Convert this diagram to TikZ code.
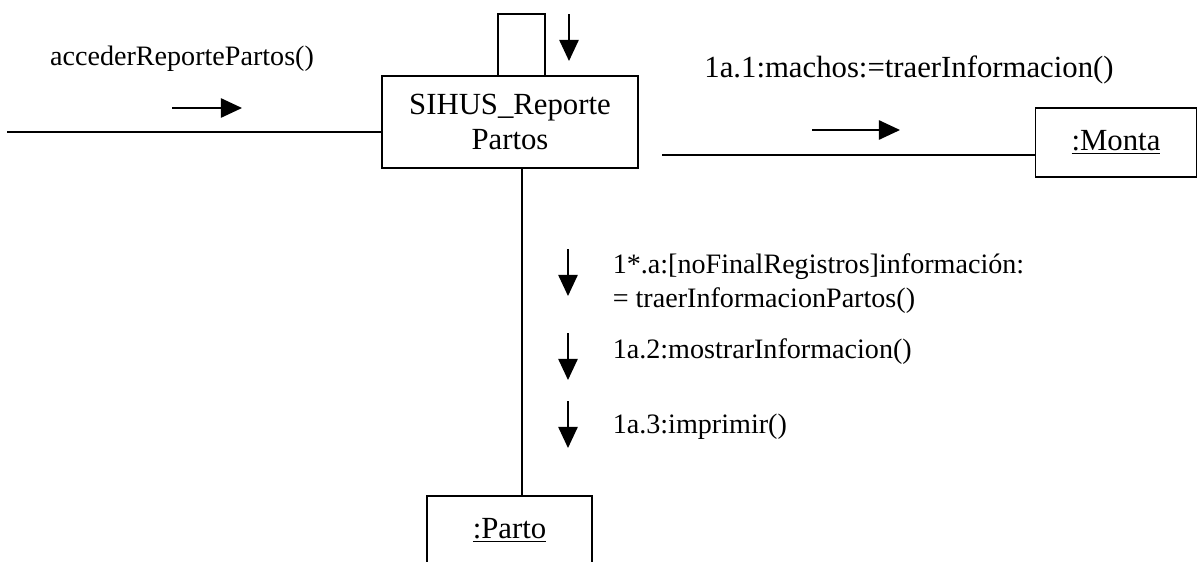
\documentclass[tikz,border=0pt]{standalone}
\usepackage{fontspec}
\setmainfont{Liberation Serif}
\usetikzlibrary{positioning, arrows.meta}
\tikzset{
    >={Triangle[length=12pt, width=11pt]},
    object/.style={
        draw,
        inner sep=0pt,
        font=\fontsize{17.5}{20}\selectfont
    },
    msg/.style={->},
    lbl/.style={inner sep=0pt, anchor=base west, font=\fontsize{16}{19}\selectfont},
}

\begin{document}
\begin{tikzpicture}[x=0.02cm, y=-0.02cm, line width=0.9pt]
    \useasboundingbox (0,0) rectangle (1199,561);

    \node[object, minimum width=5.12cm, minimum height=1.84cm, align=center] (rep) at (510,122) {SIHUS\_Reporte\\Partos};
    \node[object, minimum width=3.22cm, minimum height=1.38cm] (monta) at (1116,142.5) {\underline{:Monta}};
    \node[object, minimum width=3.3cm, minimum height=1.36cm] (parto) at (509.5,530) {\underline{:Parto}};

    % free ends and bends
    \coordinate (in)    at (7,132);
    \coordinate (out)   at (662,155);
    \coordinate (down)  at (522,0);
    \coordinate (loopL) at (498,14);
    \coordinate (loopR) at (545,14);

    \draw (in) -- (in -| rep.west);
    \draw (out) -- (out -| monta.west);
    \draw (down |- rep.south) -- (down |- parto.north);
    \draw (loopL |- rep.north) -- (loopL) -- (loopR) -- (loopR |- rep.north);

    % messages
    \coordinate (m0a) at (172,108);  \coordinate (m0b) at (242,108);
    \coordinate (m1a) at (812,130);  \coordinate (m1b) at (900,130);
    \coordinate (mSa) at (569,14);   \coordinate (mSb) at (569,61);
    \coordinate (m2a) at (568,249);  \coordinate (m2b) at (568,296);
    \coordinate (m3a) at (568,333);  \coordinate (m3b) at (568,380);
    \coordinate (m4a) at (568,401);  \coordinate (m4b) at (568,448);
    \foreach \m in {m0, m1, mS, m2, m3, m4}
        \draw[msg] (\m a) -- (\m b);

    \node[lbl, anchor=base] (l0)  at (182,65)  {accederReportePartos()};
    \node[lbl, anchor=base, font=\fontsize{17.5}{20}\selectfont] (l1) at (909,77) {1a.1:machos:=traerInformacion()};
    \node[lbl] (l2a) at (612,273) {1*.a:[noFinalRegistros]información:};
    \node[lbl] (l2b) at (612,307) {= traerInformacionPartos()};
    \node[lbl] (l3)  at (612,358) {1a.2:mostrarInformacion()};
    \node[lbl] (l4)  at (612,433) {1a.3:imprimir()};
\end{tikzpicture}
\end{document}
